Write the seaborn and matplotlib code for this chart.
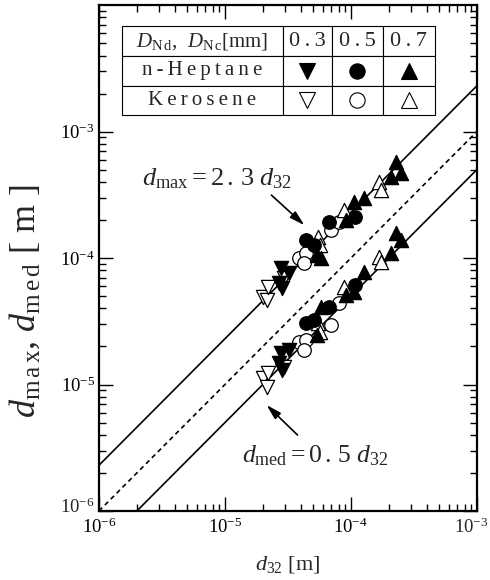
import numpy as np
import pandas as pd
import matplotlib
matplotlib.use("Agg")
import matplotlib.pyplot as plt
import matplotlib.transforms as mtransforms
from matplotlib.ticker import FuncFormatter
import seaborn as sns

# ---------------- data ----------------
fuels = ["n-Heptane", "Kerosene"]
nozzles = ["0.3", "0.5", "0.7"]

# n-Heptane
hep_03_d32 = [2.71e-5, 2.86e-5, 2.81e-5, 3.25e-5]
hep_03_dmax = [6.34e-5, 5.79e-5, 8.34e-5, 7.60e-5]
hep_03_dmed = [1.48e-5, 1.30e-5, 1.77e-5, 1.87e-5]

hep_05_d32 = [4.44e-5, 5.13e-5, 6.74e-5, 1.08e-4]
hep_05_dmax = [1.39e-4, 1.27e-4, 1.93e-4, 2.11e-4]
hep_05_dmed = [3.06e-5, 3.24e-5, 4.10e-5, 6.12e-5]

hep_07_d32 = [5.42e-5, 5.84e-5, 9.20e-5, 1.06e-4, 1.28e-4, 2.09e-4, 2.29e-4, 2.51e-4]
hep_07_dmax = [1.06e-4, 1.00e-4, 2.00e-4, 2.77e-4, 2.98e-4, 4.37e-4, 5.74e-4, 4.70e-4]
hep_07_dmed = [2.46e-5, 4.10e-5, 5.11e-5, 5.38e-5, 7.74e-5, 1.10e-4, 1.58e-4, 1.39e-4]

# Kerosene
ker_03_d32 = [1.99e-5, 2.14e-5, 2.18e-5, 2.92e-5]
ker_03_dmax = [4.92e-5, 4.66e-5, 5.90e-5, 6.95e-5]
ker_03_dmed = [1.12e-5, 9.55e-6, 1.23e-5, 1.37e-5]

ker_05_d32 = [3.90e-5, 4.44e-5, 4.28e-5, 7.00e-5, 8.09e-5]
ker_05_dmax = [1.00e-4, 1.10e-4, 9.12e-5, 1.66e-4, 1.93e-4]
ker_05_dmed = [2.17e-5, 2.25e-5, 1.87e-5, 2.95e-5, 4.41e-5]

ker_07_d32 = [5.52e-5, 5.73e-5, 8.87e-5, 1.68e-4, 1.74e-4]
ker_07_dmax = [1.47e-4, 1.27e-4, 2.39e-4, 3.99e-4, 3.45e-4]
ker_07_dmed = [3.06e-5, 2.60e-5, 5.90e-5, 1.02e-4, 9.29e-5]

# correlation lines d = k * d32
line_coefs = [2.3, 1.0, 0.5]
line_styles = ["solid", "dashed", "solid"]

# tick values
x_ticks = [1e-6, 1e-5, 1e-4, 1e-3]
y_ticks = [1e-6, 1e-5, 1e-4, 1e-3]

# ---------------- build long table ----------------
series = {
    ("n-Heptane", "0.3"): (hep_03_d32, hep_03_dmax, hep_03_dmed),
    ("n-Heptane", "0.5"): (hep_05_d32, hep_05_dmax, hep_05_dmed),
    ("n-Heptane", "0.7"): (hep_07_d32, hep_07_dmax, hep_07_dmed),
    ("Kerosene", "0.3"): (ker_03_d32, ker_03_dmax, ker_03_dmed),
    ("Kerosene", "0.5"): (ker_05_d32, ker_05_dmax, ker_05_dmed),
    ("Kerosene", "0.7"): (ker_07_d32, ker_07_dmax, ker_07_dmed),
}
rows = []
for (fuel, noz), (d32, dmax, dmed) in series.items():
    for a, b, c in zip(d32, dmax, dmed):
        rows.append(dict(fuel=fuel, nozzle=noz, d32=a, d=b, kind="max"))
        rows.append(dict(fuel=fuel, nozzle=noz, d32=a, d=c, kind="med"))
df = pd.DataFrame(rows)

# ---------------- style ----------------
sns.set_style("ticks")
serif = ["Liberation Serif", "DejaVu Serif"]
plt.rcParams["font.family"] = serif
plt.rcParams["mathtext.fontset"] = "custom"
plt.rcParams["mathtext.rm"] = "Liberation Serif"
plt.rcParams["mathtext.it"] = "Liberation Serif:italic"
plt.rcParams["mathtext.bf"] = "Liberation Serif:bold"
plt.rcParams["axes.unicode_minus"] = False

fig = plt.figure(figsize=(4.9, 5.8), dpi=100)
ax = fig.add_axes([0.202, 0.119, 0.771, 0.872])
ax.set_xscale("log")
ax.set_yscale("log")

# lines
xs = np.logspace(-6, -3, 60)
for k, ls in zip(line_coefs, line_styles):
    sns.lineplot(x=xs, y=k * xs, ax=ax, color="black", lw=1.2,
                 linestyle=(0, (2.8, 2.2)) if ls == "dashed" else "-",
                 zorder=2)

marker_of = {"0.3": "v", "0.5": "o", "0.7": "^"}
face_of = {"n-Heptane": "black", "Kerosene": "white"}
for (fuel, noz), sub in df.groupby(["fuel", "nozzle"]):
    sns.scatterplot(data=sub, x="d32", y="d", ax=ax,
                    marker=marker_of[noz], s=95 if noz == "0.5" else 105,
                    color=face_of[fuel], edgecolor="black", linewidth=0.9,
                    zorder=3, legend=False)

ax.set_xticks(x_ticks)
ax.set_yticks(y_ticks)
ax.set_xlim(1e-6, 1e-3)
ax.set_ylim(1e-6, 1e-2)


def pow_label(v):
    return r"$\mathdefault{10^{%d}}$" % int(round(np.log10(v)))


# edge labels are drawn by hand (nudged like in the reference)
x_manual = [x_ticks[-1]]
y_manual = [y_ticks[0]]
ax.xaxis.set_major_formatter(FuncFormatter(
    lambda v, p: "" if any(np.isclose(v, m) for m in x_manual) else pow_label(v)))
ax.yaxis.set_major_formatter(FuncFormatter(
    lambda v, p: "" if any(np.isclose(v, m) for m in y_manual) else pow_label(v)))

# spines / ticks
for sp in ax.spines.values():
    sp.set_visible(True)
    sp.set_linewidth(1.6)
    sp.set_color("black")
ax.tick_params(which="both", direction="in", top=True, right=True,
               colors="black", width=1.0)
ax.tick_params(which="major", length=10, labelsize=13.5)
ax.tick_params(which="minor", length=5)
ax.tick_params(axis="x", which="major", pad=5)
ax.tick_params(axis="y", which="major", pad=3)

for v in x_manual:
    tr = ax.get_xaxis_transform() + mtransforms.ScaledTranslation(-6 / 100, -7 / 100, fig.dpi_scale_trans)
    ax.text(v, 0, pow_label(v), transform=tr, ha="center", va="top",
            fontsize=13.5, clip_on=False)
for v in y_manual:
    tr = ax.get_yaxis_transform() + mtransforms.ScaledTranslation(-4 / 100, 6 / 100, fig.dpi_scale_trans)
    ax.text(0, v, pow_label(v), transform=tr, ha="right", va="center_baseline",
            fontsize=13.5, clip_on=False)

ax.set_xlabel(r"$d_{32}$ [m]", fontsize=16)
ax.set_ylabel(r"$d_{\rm m\,a\,x}$, $d_{\rm m\,e\,d}$ [ m ]", fontsize=26)
ax.xaxis.set_label_coords(0.5, -0.085)
ax.xaxis.label.set_va("top")
ax.yaxis.set_label_coords(-0.15, 0.415)

# annotations
ax.text(2.19e-6, 3.78e-4, r"$d_{\rm max} = \mathit{2\,.\,3}\ d_{32}$",
        fontsize=19, ha="left", va="baseline")
ax.annotate("", xy=(4.28e-5, 1.82e-4), xytext=(2.34e-5, 3.15e-4),
            arrowprops=dict(arrowstyle="-|>,head_length=0.9,head_width=0.25",
                            color="black", lw=1.2, shrinkA=0, shrinkB=0))
ax.text(1.36e-5, 2.44e-6, r"$d_{\rm med} = \mathit{0\,.\,5}\ d_{32}$",
        fontsize=18.5, ha="left", va="baseline")
ax.annotate("", xy=(2.14e-5, 6.89e-6), xytext=(3.77e-5, 3.99e-6),
            arrowprops=dict(arrowstyle="-|>,head_length=0.9,head_width=0.25",
                            color="black", lw=1.2, shrinkA=0, shrinkB=0))

# legend table
def spaced(s):
    return "\u2009".join(s)

col_px = np.array([161, 49, 51, 52], dtype=float)
tbl_left, tbl_bottom, tbl_w, tbl_h = 0.0608, 0.7826, 0.8281, 0.1759
header = r"$D_{\rm N\,d}$,  $D_{\rm N\,c}$[mm]"
cell_text = [[header] + [spaced(n) for n in nozzles],
             [spaced(fuels[0]), "", "", ""],
             [spaced(fuels[1]), "", "", ""]]
tbl = ax.table(cellText=cell_text, colWidths=list(col_px / col_px.sum()),
               bbox=[tbl_left, tbl_bottom, tbl_w, tbl_h], cellLoc="center")
tbl.auto_set_font_size(False)
tbl.set_fontsize(15)
tbl.set_zorder(6)
for (r, c), cell in tbl.get_celld().items():
    cell.set_edgecolor("black")
    cell.set_linewidth(0.8)
    cell.set_facecolor("white")
    cell.get_text().set_fontfamily(serif)
    cell.get_text().set_fontsize(16 if (r == 0 and c > 0) else 15)

x_edges = tbl_left + tbl_w * np.concatenate([[0], np.cumsum(col_px)]) / col_px.sum()
x_cent = (x_edges[:-1] + x_edges[1:]) / 2
row_h = tbl_h / 3
for ri, fuel in enumerate(fuels):
    yc = tbl_bottom + tbl_h - row_h * (ri + 1.5)
    for ci, noz in enumerate(nozzles):
        ax.plot(x_cent[ci + 1], yc, marker=marker_of[noz], ms=11,
                mfc=face_of[fuel], mec="black", mew=0.8, ls="none",
                transform=ax.transAxes, zorder=10, clip_on=False)

fig.savefig("out.png", dpi=100)
